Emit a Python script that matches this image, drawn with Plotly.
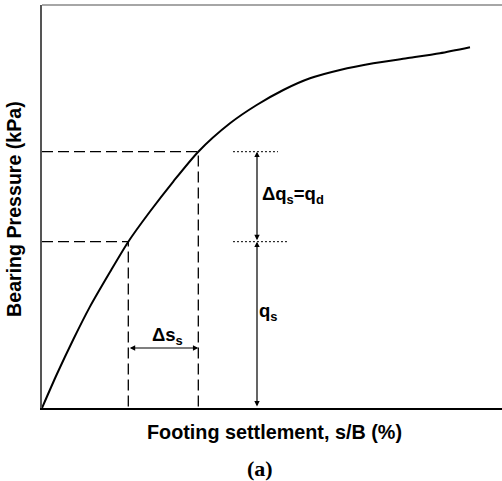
import plotly.graph_objects as go

# Load-settlement curve (arbitrary units: s/B %, bearing pressure)
settlement = [0, 0.320, 0.680, 1.043, 1.478, 1.876, 2.348, 2.854, 3.398, 4.087,
              4.667, 5.246, 5.826, 6.478, 7.202, 7.928, 8.652, 9.304]
pressure = [0, 0.831, 1.700, 2.516, 3.375, 4.127, 4.876, 5.620, 6.360, 7.064,
            7.518, 7.891, 8.181, 8.387, 8.553, 8.677, 8.801, 8.950]

# Key points on the curve
s_service, q_service = 1.876, 4.127      # q_s
s_design, q_design = 3.398, 6.360        # q_s + delta q_s
x_arrow = 4.674                          # vertical dimension line position
y_ds_arrow = 1.489                       # delta s dimension line height

FONT = "Arial, Liberation Sans, sans-serif"

fig = go.Figure()
fig.add_trace(go.Scatter(x=settlement, y=pressure, mode="lines",
                         line=dict(color="black", width=2, shape="spline", smoothing=0.7),
                         showlegend=False, hoverinfo="skip"))

dash = "11px,5px"
for (sx, qy) in [(s_service, q_service), (s_design, q_design)]:
    fig.add_trace(go.Scatter(x=[0, sx, sx], y=[qy, qy, 0], mode="lines",
                             line=dict(color="black", width=1.3, dash=dash),
                             showlegend=False, hoverinfo="skip"))

# dotted reference ticks
fig.add_trace(go.Scatter(x=[4.152, 5.13], y=[q_design, q_design], mode="lines",
                         line=dict(color="black", width=1, dash="2px,2px"),
                         showlegend=False, hoverinfo="skip"))
fig.add_trace(go.Scatter(x=[4.152, 5.348], y=[q_service, q_service], mode="lines",
                         line=dict(color="black", width=1, dash="2px,2px"),
                         showlegend=False, hoverinfo="skip"))

def dim_arrow(x0, y0, x1, y1):
    fig.add_annotation(x=x1, y=y1, ax=x0, ay=y0, xref="x", yref="y", axref="x", ayref="y",
                       showarrow=True, arrowhead=2, arrowsize=0.9, arrowwidth=1.2,
                       arrowside="end+start", arrowcolor="black", text="")

dim_arrow(x_arrow, q_service, x_arrow, q_design)
dim_arrow(x_arrow, 0, x_arrow, q_service)
dim_arrow(s_service, y_ds_arrow, s_design, y_ds_arrow)

LBL = 18.5
fig.add_annotation(x=5.457, y=5.285, text="<b>Δq<sub>s</sub>=q<sub>d</sub></b>", showarrow=False,
                   font=dict(family=FONT, size=LBL, color="black"))
fig.add_annotation(x=4.913, y=2.38, text="<b>q<sub>s</sub></b>", showarrow=False,
                   font=dict(family=FONT, size=LBL, color="black"))
fig.add_annotation(x=2.739, y=1.787, text="<b>Δs<sub>s</sub></b>", showarrow=False,
                   font=dict(family=FONT, size=LBL, color="black"))

fig.add_annotation(xref="paper", yref="paper", x=0.506, y=-0.0596, yanchor="middle",
                   text="<b>Footing settlement, s/B (%)</b>", showarrow=False,
                   font=dict(family=FONT, size=19.8, color="black"))
fig.add_annotation(xref="paper", yref="paper", x=0.474, y=-0.149, yanchor="middle",
                   text="<b>(a)</b>", showarrow=False,
                   font=dict(family="Liberation Serif, Times New Roman, serif", size=22, color="black"))
fig.add_annotation(xref="paper", yref="paper", x=-0.0609, y=0.494, xanchor="center", yanchor="middle",
                   text="<b>Bearing Pressure (kPa)</b>", textangle=-90, showarrow=False,
                   font=dict(family=FONT, size=19.6, color="black"))

# top border
fig.add_shape(type="line", xref="paper", yref="paper", x0=0, x1=1, y0=1, y1=1,
              line=dict(color="#888888", width=1.5))

fig.update_xaxes(range=[0, 10], showgrid=False, zeroline=False, showticklabels=False,
                 ticks="", showline=True, linecolor="black", linewidth=1.5)
fig.update_yaxes(range=[0, 10], showgrid=False, zeroline=False, showticklabels=False,
                 ticks="", showline=True, linecolor="#555555", linewidth=1.5)

fig.update_layout(width=502, height=481, margin=dict(l=42, r=0, t=5, b=73),
                  plot_bgcolor="white", paper_bgcolor="white", showlegend=False)

fig.write_html("out.html", config={"displayModeBar": False},
               post_script="document.body.style.margin='0';document.body.style.overflow='hidden';")
